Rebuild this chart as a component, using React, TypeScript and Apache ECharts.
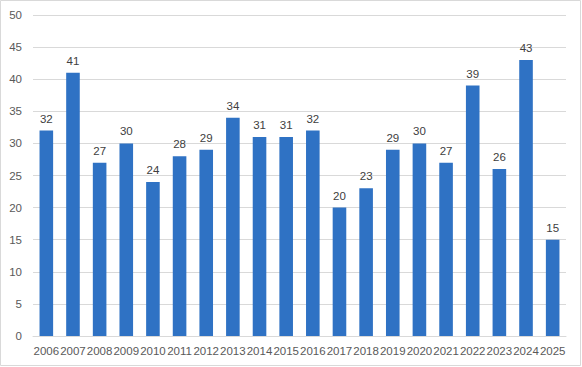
import React, { useEffect, useRef } from "react";
import * as echarts from "echarts";

const years = ["2006","2007","2008","2009","2010","2011","2012","2013","2014","2015","2016","2017","2018","2019","2020","2021","2022","2023","2024","2025"];
const values = [32, 41, 27, 30, 24, 28, 29, 34, 31, 31, 32, 20, 23, 29, 30, 27, 39, 26, 43, 15];

const FONT = "'Liberation Sans', 'DejaVu Sans', sans-serif";

export default function App() {
  const ref = useRef<HTMLDivElement>(null);
  useEffect(() => {
    if (!ref.current) return;
    const chart = echarts.init(ref.current, null, { renderer: "svg" });
    chart.setOption({
      animation: false,
      backgroundColor: "#ffffff",
      graphic: [
        {
          type: "rect",
          shape: { x: 0.5, y: 0.5, width: 580, height: 365 },
          style: { fill: "none", stroke: "#d9d9d9", lineWidth: 1 },
          silent: true,
        },
      ],
      grid: { left: 33, right: 16, top: 15, bottom: 31, containLabel: false },
      xAxis: {
        type: "category",
        data: years,
        axisLine: { lineStyle: { color: "#d9d9d9" } },
        axisTick: { show: false },
        axisLabel: { color: "#595959", fontSize: 11.5, fontFamily: FONT, margin: 9, interval: 0 },
      },
      yAxis: {
        type: "value",
        min: 0,
        max: 50,
        interval: 5,
        axisLine: { show: false },
        axisTick: { show: false },
        splitLine: { lineStyle: { color: "#d9d9d9" } },
        axisLabel: { color: "#595959", fontSize: 11.5, fontFamily: FONT, margin: 11 },
      },
      series: [
        {
          type: "bar",
          data: values,
          barCategoryGap: "49%",
          itemStyle: { color: "#2f72c4" },
          label: {
            show: true,
            position: "top",
            distance: 6,
            color: "#404040",
            fontSize: 11.5,
            fontFamily: FONT,
          },
        },
      ],
    });
    return () => chart.dispose();
  }, []);
  return <div ref={ref} style={{ position: "fixed", left: 0, top: 0, width: 582, height: 367 }} />;
}
